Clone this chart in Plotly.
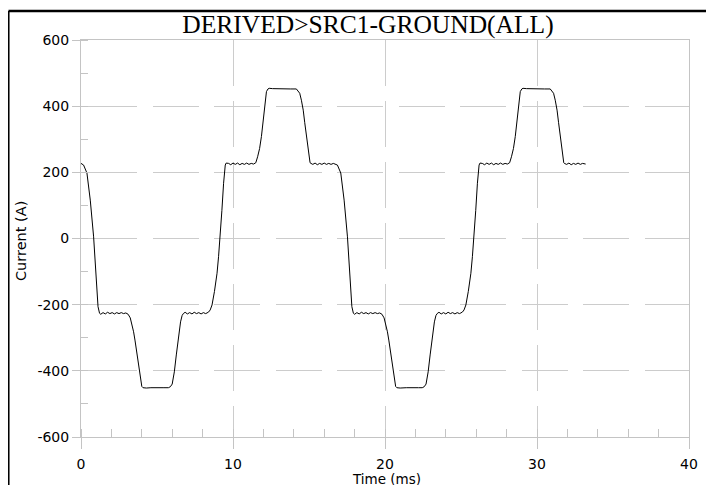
import plotly.graph_objects as go

title_text = "DERIVED>SRC1-GROUND(ALL)"
x_title = "Time (ms)"
y_title = "Current (A)"
x_ticks = [0, 10, 20, 30, 40]
y_ticks = [-600, -400, -200, 0, 200, 400, 600]

time_ms = [
    0.00, 0.17, 0.39, 0.61, 0.83, 1.01, 1.12, 1.22,
    1.30, 1.45, 1.60, 1.75, 1.90, 2.05, 2.20, 2.35, 2.50, 2.65, 2.80, 2.95,
    3.10, 3.24, 3.35, 3.46, 3.55, 3.64, 3.72, 3.80, 3.87, 3.93, 4.00, 4.08,
    4.30, 4.60, 5.00, 5.40, 5.75, 5.88,
    6.00, 6.14, 6.27, 6.43, 6.55, 6.65, 6.73,
    6.85, 7.00, 7.15, 7.30, 7.45, 7.60, 7.75, 7.90, 8.05, 8.20, 8.29,
    8.40, 8.50, 8.62, 8.78, 8.95, 9.05, 9.16, 9.27, 9.38, 9.45, 9.49, 9.55,
    9.71, 9.85, 10.00, 10.15, 10.30, 10.45, 10.60, 10.75, 10.90, 11.05, 11.20, 11.35, 11.50,
    11.62, 11.75, 11.87, 11.97, 12.05, 12.13, 12.20, 12.30, 12.38,
    12.60, 13.00, 13.40, 13.80, 14.17,
    14.28, 14.39, 14.50, 14.62, 14.72, 14.83, 14.92, 15.01, 15.07, 15.13,
    15.25, 15.40, 15.55, 15.70, 15.85, 16.00, 16.15, 16.30, 16.45, 16.60, 16.75,
    16.87, 17.09, 17.31, 17.53, 17.71, 17.82, 17.92,
    18.00, 18.15, 18.30, 18.45, 18.60, 18.75, 18.90, 19.05, 19.20, 19.35, 19.50, 19.65,
    19.80, 19.94, 20.05, 20.16, 20.25, 20.34, 20.42, 20.50, 20.57, 20.63, 20.70, 20.78,
    21.00, 21.40, 21.80, 22.20, 22.45, 22.58,
    22.70, 22.84, 22.97, 23.13, 23.25, 23.35, 23.43,
    23.55, 23.70, 23.85, 24.00, 24.15, 24.30, 24.45, 24.60, 24.75, 24.90, 24.99,
    25.10, 25.20, 25.32, 25.48, 25.65, 25.75, 25.86, 25.97, 26.08, 26.15, 26.19, 26.25,
    26.40, 26.55, 26.70, 26.85, 27.00, 27.15, 27.30, 27.45, 27.60, 27.75, 27.90, 28.05, 28.20,
    28.32, 28.45, 28.57, 28.67, 28.75, 28.83, 28.90, 29.00, 29.08,
    29.30, 29.70, 30.10, 30.50, 30.87,
    30.98, 31.09, 31.20, 31.32, 31.42, 31.53, 31.62, 31.71, 31.76, 31.80,
    31.95, 32.10, 32.25, 32.40, 32.55, 32.70, 32.85, 33.00, 33.20,
]

current_a = [
    227, 222, 198, 116, 5, -135, -206, -226,
    -229, -224, -228, -223, -227, -224, -228, -224, -227, -224, -227, -225,
    -229, -240, -258, -282, -307, -337, -368, -397, -420, -437, -447, -451,
    -452, -451, -452, -451, -451, -448,
    -440, -403, -352, -289, -252, -233, -227,
    -223, -228, -224, -228, -223, -227, -224, -228, -224, -227, -225,
    -222, -216, -201, -160, -105, -55, 5, 85, 167, 205, 222, 228,
    227, 223, 228, 224, 228, 223, 227, 224, 228, 224, 227, 225, 229,
    247, 272, 308, 345, 388, 422, 444, 452, 454,
    453, 452, 453, 452, 452,
    447, 439, 418, 388, 350, 308, 272, 237, 229, 227,
    224, 228, 223, 227, 224, 228, 224, 227, 224, 227, 225,
    222, 198, 116, 5, -135, -206, -226,
    -229, -224, -228, -223, -227, -224, -228, -224, -227, -224, -227, -225,
    -229, -240, -258, -282, -307, -337, -368, -397, -420, -437, -447, -451,
    -452, -451, -452, -451, -451, -448,
    -440, -403, -352, -289, -252, -233, -227,
    -223, -228, -224, -228, -223, -227, -224, -228, -224, -227, -225,
    -222, -216, -201, -160, -105, -55, 5, 85, 167, 205, 222, 228,
    227, 223, 228, 224, 228, 223, 227, 224, 228, 224, 227, 225, 229,
    247, 272, 308, 345, 388, 422, 444, 452, 454,
    453, 452, 453, 452, 452,
    447, 439, 418, 388, 350, 308, 272, 237, 229, 227,
    224, 228, 223, 227, 224, 228, 224, 227, 225,
]

W, H = 714, 485
OFF = 8  # page body margin
ML, MT = 73, 32
PW, PH = 608, 397
MR, MB = W - ML - PW, H - MT - PH

AX = "#c4c4c4"
GRID = "#cccccc"

# dash patterns for the grid lines
h_dash = "0px,5px,51px" + ",15.5px,46px" * 10 + ",15.5px"
v_dash = "45.5px,15.5px"

fig = go.Figure()
fig.add_trace(go.Scatter(
    x=time_ms, y=current_a, mode="lines",
    line=dict(color="black", width=1), showlegend=False, hoverinfo="skip",
))


def px_x(p):
    return (p - OFF - ML) / PW


def px_y(p):
    return (MT + PH - (p - OFF)) / PH


fig.update_layout(
    width=W, height=H,
    margin=dict(l=ML, r=MR, t=MT, b=MB, pad=0),
    paper_bgcolor="white", plot_bgcolor="white",
    title=dict(
        text=title_text, x=(368 - OFF) / W, xref="container", xanchor="center",
        y=1 - (24 - OFF) / H, yref="container", yanchor="middle",
        font=dict(family="Liberation Serif", size=25.5, color="black"),
    ),
    xaxis=dict(
        range=[0, 40], tickvals=x_ticks, ticktext=[str(v) for v in x_ticks],
        showline=True, linecolor=AX, linewidth=1, mirror=True,
        showgrid=True, gridcolor=GRID, gridwidth=1, griddash=v_dash,
        zeroline=False,
        ticks="outside", ticklen=11, tickcolor=AX, tickwidth=1,
        ticklabelstandoff=3,
        tickfont=dict(family="DejaVu Sans", size=14, color="black"),
        minor=dict(dtick=2, tick0=0, ticks="inside", ticklen=8,
                   tickcolor=AX, tickwidth=1, showgrid=False),
        fixedrange=True,
    ),
    yaxis=dict(
        range=[-600, 600], tickvals=y_ticks, ticktext=[str(v) for v in y_ticks],
        showline=True, linecolor=AX, linewidth=1, mirror=True,
        showgrid=True, gridcolor=GRID, gridwidth=1, griddash=h_dash,
        zeroline=False,
        ticks="outside", ticklen=8, tickcolor=AX, tickwidth=1,
        tickfont=dict(family="DejaVu Sans", size=14, color="black"),
        minor=dict(dtick=100, tick0=0, ticks="inside", ticklen=7,
                   tickcolor=AX, tickwidth=1, showgrid=False),
        fixedrange=True,
    ),
    annotations=[
        dict(text=y_title, xref="paper", yref="paper", x=px_x(21), y=px_y(241),
             xanchor="center", yanchor="middle", textangle=-90, showarrow=False,
             font=dict(family="DejaVu Sans", size=14.5, color="black")),
        dict(text=x_title, xref="paper", yref="paper", x=px_x(386), y=px_y(479.5),
             xanchor="center", yanchor="middle", showarrow=False,
             font=dict(family="DejaVu Sans", size=13.5, color="black")),
    ],
    shapes=[
        dict(type="line", xref="paper", yref="paper",
             x0=px_x(8.5), x1=px_x(760), y0=px_y(11), y1=px_y(11),
             line=dict(color="black", width=2.5)),
        dict(type="line", xref="paper", yref="paper",
             x0=px_x(8.3), x1=px_x(8.3), y0=px_y(11), y1=px_y(520),
             line=dict(color="black", width=2.5)),
    ],
)

fig.write_html("out.html", config={"displayModeBar": False})
